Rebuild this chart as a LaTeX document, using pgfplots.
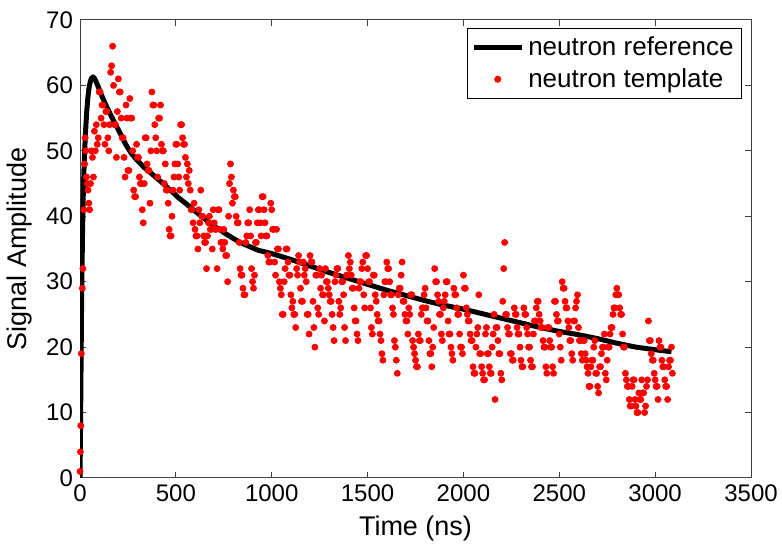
\documentclass[border=0pt]{standalone}
\usepackage{fontspec}
\setmainfont{Liberation Sans}
\usepackage{pgfplots}
\pgfplotsset{compat=1.18}
\definecolor{mred}{RGB}{255,0,0}
\pgfplotsset{
  reflegend/.style={legend image code/.code={\draw[##1] (0pt,0pt) -- (24pt,0pt);}},
  dotlegend/.style={legend image code/.code={\draw[mark repeat=2,mark phase=2,##1] plot coordinates {(0pt,0pt) (12pt,0pt) (24pt,0pt)};}},
}
\begin{document}
\begin{tikzpicture}
\begin{axis}[name=ax,
  scale only axis, width=335.5pt, height=229pt,
  xmin=0, xmax=3500, ymin=0, ymax=70,
  xtick={0,500,...,3500}, ytick={0,10,...,70},
  tick align=inside, major tick length=3pt,
  axis line style={black!75, line width=0.5pt},
  every tick/.style={black!75, line width=0.5pt},
  /pgf/number format/assume math mode=true,
  /pgf/number format/1000 sep={},
  scaled x ticks=false,
  tick label style={font=\fontsize{12}{14}\selectfont},
  label style={font=\fontsize{13.5}{16}\selectfont},
  xlabel={Time (ns)}, ylabel={Signal Amplitude},
  legend style={at={(0.9866,0.9825)}, anchor=north east, draw=black, line width=0.5pt,
    font=\fontsize{13}{15}\selectfont, inner sep=2pt, row sep=1pt, cells={anchor=west}},
]
\addplot[black, line width=2.5pt, line join=round, reflegend]
coordinates {
(0,0)(2,5)(4,12)(6,19)(8,26)(10,31)(13,37)(16,42)(20,46.5)(25,50.5)(30,53.5)(35,56)(40,57.8)(45,59.2)(50,60.1)(55,60.7)(60,61.1)(68,61.3)(75,61.1)(85,60.5)(95,59.8)(111,58.6)(130,57.3)(163,55.3)(190,53.8)(216,52.3)(240,50.9)(268,49.6)(300,48.5)(337,47.4)(370,46.6)(398,45.9)(430,45.1)(459,44.3)(490,43.5)(511,42.9)(550,42)(583,41.2)(625,40.2)(669,39.2)(710,38.3)(756,37.4)(800,36.6)(843,35.9)(890,35.3)(930,34.8)(1000,34.3)(1100,33.4)(1200,32.4)(1300,31.4)(1400,30.5)(1500,29.6)(1600,28.7)(1700,27.9)(1800,27.1)(1900,26.4)(2000,25.8)(2100,25.1)(2200,24.4)(2300,23.7)(2400,23.0)(2500,22.4)(2600,21.9)(2700,21.3)(2800,20.6)(2900,20.0)(3000,19.6)(3085,19.3)
};
\addlegendentry{neutron reference}
\addplot[only marks, mark=*, mark size=1.5pt, color=mred, dotlegend]
coordinates {
(0,1)(2,4)(4,8)(7,19)(12,29)(15,32)(20,41)(24,48)(27,52)(30,50)(34,46)(38,45)(42,44)(46,42)(50,41)(55,45)(60,50)(65,49)(70,46)(75,53)(80,50)(85,54)(90,51)(95,52)
(100,59)(105,59)(110,55)(115,57)(120,57)(125,54)(130,51)(135,56)(140,56)(145,52)
(150,50)(155,54)(160,62)(165,63)(170,66)(175,60)(180,54)(185,54)(190,49)(195,56)
(200,61)(205,59)(210,59)(215,55)(220,52)(225,52)(230,49)(235,46)(240,57)(245,55)
(250,47)(255,47)(260,58)(265,55)(270,55)(275,50)(280,44)(285,43)(290,43)(295,51)
(300,49)(305,49)(310,46)(315,45)(320,45)(325,41)(330,39)(335,45)(340,52)(345,52)
(350,48)(355,47)(360,47)(365,42)(370,50)(375,59)(380,57)(385,57)(390,54)(395,52)
(400,50)(405,46)(410,55)(415,55)(420,57)(425,51)(430,50)(435,50)(440,45)(445,48)
(450,44)(455,44)(460,42)(465,38)(470,37)(475,37)(480,40)(485,44)(490,46)(495,48)
(500,51)(505,51)(510,48)(515,46)(520,44)(525,54)(530,54)(535,52)(540,51)(545,51)
(550,49)(555,46)(560,48)(565,45)(570,47)(575,44)(580,41)(585,41)(590,39)(595,42)
(600,38)(605,37)(610,37)(615,35)(620,41)(625,39)(630,44)(635,40)(640,40)(645,37)
(650,36)(655,36)(660,32)(665,37)(670,39)(675,40)(680,38)(685,38)(690,35)(695,41)
(700,39)(705,38)(710,38)(715,32)(720,41)(725,41)(730,38)(735,36)(740,36)(745,35)
(750,38)(755,36)(760,34)(765,34)(770,30)(775,40)(780,45)(785,48)(790,46)(795,42)
(800,44)(805,43)(810,43)(815,40)(820,39)(825,39)(830,36)(835,32)(840,31)(845,31)
(850,29)(855,28)(860,28)(865,36)(870,37)(875,39)(880,39)(885,41)(890,37)(895,32)
(900,30)(905,29)(910,31)(915,36)(920,36)(925,39)(930,41)(935,41)(940,39)(945,37)
(950,43)(955,43)(960,41)(965,39)(970,37)(975,37)(980,34)(985,33)(990,33)(995,42)
(1000,41)(1005,38)(1010,38)(1015,33)(1020,31)(1025,38)(1030,35)(1035,35)(1040,30)(1045,29)
(1050,28)(1055,25)(1060,25)(1065,30)(1070,32)(1075,35)(1080,35)(1085,33)(1090,31)(1095,31)
(1100,28)(1105,26)(1110,27)(1115,25)(1120,25)(1125,23)(1130,32)(1135,31)(1140,34)(1145,33)
(1150,29)(1155,27)(1160,27)(1165,33)(1170,31)(1175,32)(1180,30)(1185,25)(1190,25)(1195,22)
(1200,34)(1205,33)(1210,33)(1215,27)(1220,23)(1225,20)(1230,31)(1235,31)(1240,26)(1245,25)
(1250,32)(1255,29)(1260,31)(1265,28)(1270,28)(1275,24)(1280,32)(1285,30)(1290,30)(1295,29)
(1300,28)(1305,27)(1310,27)(1315,25)(1320,23)(1325,21)(1330,30)(1335,31)(1340,32)(1345,32)
(1350,27)(1355,25)(1360,26)(1365,30)(1370,30)(1375,28)(1380,23)(1385,21)(1390,31)(1395,31)
(1400,34)(1405,32)(1410,33)(1415,31)(1420,29)(1425,29)(1430,26)(1435,24)(1440,24)(1445,22)
(1450,21)(1455,29)(1460,30)(1465,30)(1470,32)(1475,33)(1480,28)(1485,26)(1490,34)(1495,34)
(1500,32)(1505,30)(1510,30)(1515,26)(1520,23)(1525,22)(1530,31)(1535,31)(1540,28)(1545,27)
(1550,25)(1555,24)(1560,24)(1565,22)(1570,21)(1575,19)(1580,18)(1585,28)(1590,30)(1595,30)
(1600,33)(1605,32)(1610,32)(1615,30)(1620,28)(1625,28)(1630,26)(1635,25)(1640,21)(1645,20)
(1650,18)(1655,16)(1660,28)(1665,29)(1670,29)(1675,31)(1680,33)(1685,27)(1690,27)(1695,25)
(1700,24)(1705,24)(1710,22)(1715,26)(1720,25)(1725,28)(1730,28)(1735,21)(1740,20)(1745,19)
(1750,18)(1755,17)(1760,17)(1765,22)(1770,21)(1775,21)(1780,25)(1785,26)(1790,26)(1795,28)
(1800,29)(1805,26)(1810,24)(1815,24)(1820,21)(1825,19)(1830,19)(1835,17)(1840,20)(1845,23)
(1850,32)(1855,30)(1860,30)(1865,28)(1870,27)(1875,25)(1880,25)(1885,22)(1890,21)(1895,26)
(1900,27)(1905,28)(1910,30)(1915,30)(1920,24)(1925,22)(1930,22)(1935,20)(1940,19)(1945,18)
(1950,29)(1955,28)(1960,28)(1965,26)(1970,25)(1975,25)(1980,22)(1985,20)(1990,20)(1995,19)
(2000,31)(2005,29)(2010,29)(2015,26)(2020,25)(2025,24)(2030,24)(2035,22)(2040,21)(2045,21)
(2050,17)(2055,16)(2060,16)(2065,20)(2070,22)(2075,23)(2080,28)(2085,19)(2090,19)(2095,17)
(2100,16)(2105,15)(2110,15)(2115,22)(2120,23)(2125,19)(2130,19)(2135,17)(2140,16)(2145,16)
(2150,20)(2155,22)(2160,25)(2165,12)(2170,23)(2175,23)(2180,21)(2185,19)(2190,19)(2195,16)
(2200,15)(2205,27)(2210,32)(2215,36)(2220,25)(2225,25)(2230,23)(2235,22)(2240,22)(2245,19)
(2250,19)(2255,18)(2260,18)(2265,26)(2270,25)(2275,25)(2280,23)(2285,22)(2290,22)(2295,20)
(2300,18)(2305,17)(2310,17)(2315,26)(2320,25)(2325,25)(2330,23)(2335,22)(2340,20)(2345,20)
(2350,18)(2355,17)(2360,17)(2365,22)(2370,24)(2375,24)(2380,26)(2385,27)(2390,27)(2395,25)
(2400,24)(2405,23)(2410,23)(2415,21)(2420,20)(2425,20)(2430,17)(2435,16)(2440,23)(2445,23)
(2450,21)(2455,20)(2460,20)(2465,17)(2470,16)(2475,27)(2480,27)(2485,25)(2490,24)(2495,24)
(2500,22)(2505,20)(2510,18)(2515,30)(2520,29)(2525,29)(2530,27)(2535,26)(2540,26)(2545,24)
(2550,23)(2555,21)(2560,21)(2565,19)(2570,18)(2575,24)(2580,24)(2585,26)(2590,27)(2595,28)
(2600,23)(2605,21)(2610,21)(2615,19)(2620,18)(2625,21)(2630,21)(2635,19)(2640,18)(2645,17)
(2650,16)(2655,14)(2660,14)(2665,17)(2670,18)(2675,18)(2680,20)(2685,21)(2690,16)(2695,16)
(2700,14)(2705,13)(2710,17)(2715,17)(2720,19)(2725,20)(2730,20)(2735,22)(2740,16)(2745,15)
(2750,18)(2755,20)(2760,20)(2765,22)(2770,23)(2775,23)(2780,25)(2785,26)(2790,26)(2795,28)
(2800,29)(2805,28)(2810,28)(2815,26)(2820,25)(2825,25)(2830,22)(2835,20)(2840,20)(2845,16)
(2850,15)(2855,14)(2860,14)(2865,12)(2870,11)(2875,11)(2880,14)(2885,15)(2890,15)(2895,12)
(2900,11)(2905,10)(2910,10)(2915,13)(2920,12)(2925,12)(2930,15)(2935,13)(2940,13)(2945,10)
(2950,11)(2955,14)(2960,15)(2965,24)(2970,21)(2975,21)(2980,19)(2985,18)(2990,18)(2995,16)
(3000,15)(3005,14)(3010,14)(3015,12)(3020,21)(3025,20)(3030,20)(3035,18)(3040,17)(3045,17)
(3050,15)(3055,14)(3060,14)(3065,12)(3070,17)(3075,18)(3080,18)(3085,20)(3090,16)
};
\addlegendentry{neutron template}
\end{axis}
\pgfresetboundingbox
\path[use as bounding box] ([shift={(-40pt,-34pt)}]ax.south west) rectangle ([shift={(15.5pt,10pt)}]ax.north east);
\end{tikzpicture}
\end{document}
